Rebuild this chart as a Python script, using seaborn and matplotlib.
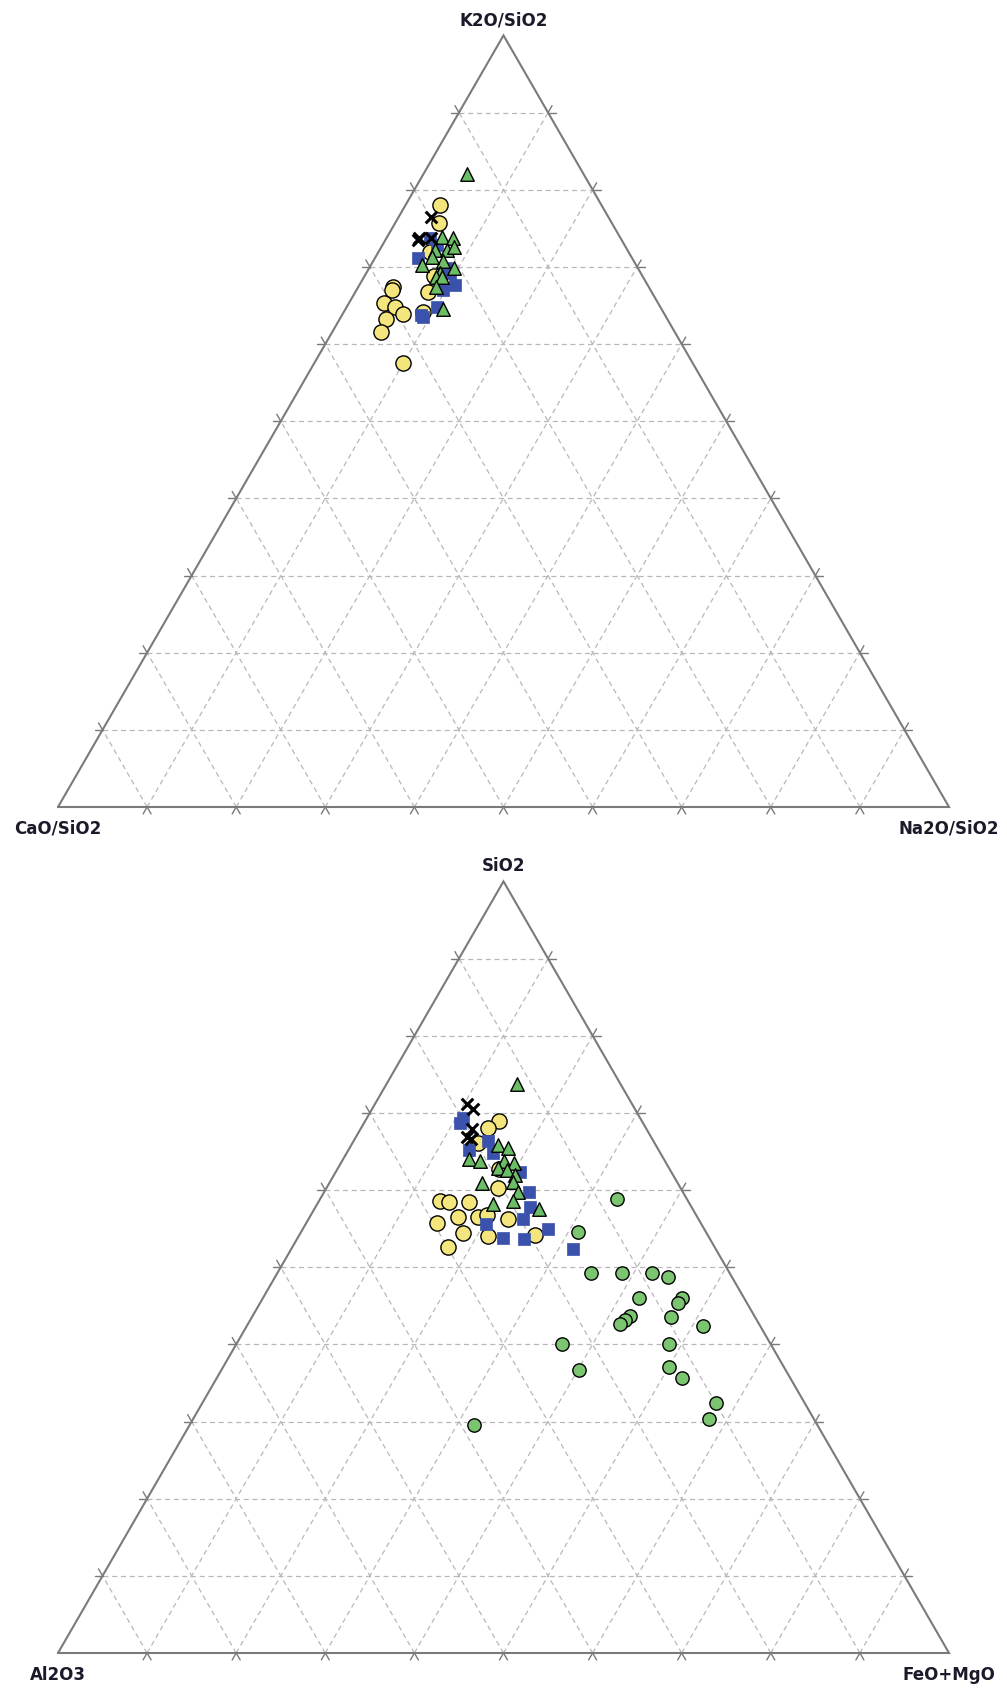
import numpy as np
import pandas as pd
import matplotlib
matplotlib.use("Agg")
import matplotlib.pyplot as plt
import seaborn as sns

# ---------------- data (ternary percentages: apex %, right-corner %) ----------------
top_labels = ["K2O/SiO2", "CaO/SiO2", "Na2O/SiO2"]       # apex, left, right
bottom_labels = ["SiO2", "Al2O3", "FeO+MgO"]              # apex, left, right

# Top diagram
top_yellow_apex = [78.0, 75.7, 71.9, 68.8, 66.7, 67.4, 67.0, 65.3, 64.8, 63.9, 63.3, 61.6, 64.2, 57.5]
top_yellow_right = [3.9, 4.9, 5.8, 7.8, 8.2, 3.9, 4.0, 3.9, 5.4, 6.8, 5.2, 5.5, 8.9, 10.0]

top_blue_apex = [73.7, 72.8, 71.1, 69.9, 67.7, 67.0, 69.2, 64.8, 63.8, 63.5]
top_blue_right = [4.9, 6.1, 4.9, 8.6, 10.7, 9.7, 9.4, 10.1, 8.8, 9.2]

top_tri_apex = [82.1, 73.9, 73.7, 72.2, 72.2, 72.6, 70.7, 71.3, 70.2, 69.8, 69.2, 68.7, 68.7, 67.4, 64.6]
top_tri_right = [4.9, 6.1, 7.5, 6.2, 7.6, 8.1, 7.9, 6.3, 5.7, 9.6, 8.3, 8.1, 8.7, 8.7, 10.9]

top_cross_apex = [76.5, 73.8, 73.5, 73.7]
top_cross_right = [3.6, 3.6, 3.6, 5.0]

# Bottom diagram
bot_yellow_apex = [68.9, 68.0, 66.1, 62.7, 60.2, 58.6, 58.4, 58.4, 56.5, 56.5, 56.8, 56.3,
                   55.7, 54.4, 54.0, 54.2, 52.6]
bot_yellow_right = [15.0, 14.3, 14.1, 18.2, 19.3, 13.6, 14.7, 16.9, 16.6, 18.9, 19.7, 22.3,
                    14.7, 18.2, 21.3, 26.4, 17.5]

bot_blue_apex = [68.7, 69.3, 66.3, 64.8, 65.2, 62.4, 59.7, 57.8, 56.2, 55.6, 55.0, 53.8, 53.6, 52.4]
bot_blue_right = [10.8, 10.8, 15.1, 16.4, 13.5, 20.6, 23.0, 24.1, 24.1, 20.2, 27.5, 23.0, 25.5, 31.6]

bot_tri_apex = [73.7, 65.8, 65.5, 64.0, 63.7, 63.8, 63.5, 62.8, 62.6, 61.9, 60.9, 61.0,
                59.8, 58.6, 58.2, 57.5]
bot_tri_right = [14.7, 16.5, 17.7, 14.1, 15.5, 18.1, 19.4, 18.0, 19.1, 20.3, 17.1, 20.6,
                 21.7, 21.8, 19.7, 25.2]

bot_cross_apex = [71.1, 70.5, 67.9, 66.9, 66.6]
bot_cross_right = [10.3, 11.3, 12.5, 12.4, 13.0]

bot_gcirc_apex = [58.8, 54.6, 49.3, 49.3, 49.3, 48.7, 46.0, 46.0, 45.4, 43.7, 43.2, 42.6,
                  43.6, 42.4, 40.0, 40.0, 36.7, 37.1, 35.7, 32.4, 30.3, 29.6]
bot_gcirc_right = [33.3, 31.1, 35.2, 38.6, 42.0, 44.1, 42.2, 47.0, 46.9, 42.4, 42.0, 41.8,
                   47.0, 51.2, 36.6, 48.6, 40.1, 50.0, 52.2, 57.6, 57.9, 31.9]

# ---------------- styling ----------------
YELLOW = "#F4E67C"
BLUE = "#3A52AC"
GREEN_TRI = "#6CBE66"
GREEN_CIRC = "#7BC470"
EDGE_GREY = "#7a7a7a"
GRID_GREY = "#b8b8b8"

S3 = np.sqrt(3) / 2
PX = 1.0 / 891.0   # one pixel in data units (triangle side = 891 px)


def to_df(apex, right):
    a = np.asarray(apex, float) / 100.0
    c = np.asarray(right, float) / 100.0
    return pd.DataFrame({"x": c + a / 2.0, "y": a * S3})


def draw_frame(ax, labels):
    ax.set_xlim(0, 1)
    ax.set_ylim(0, S3)
    ax.axis("off")
    d = 8 * PX
    for k in range(1, 10):
        f = k / 10.0
        p1 = np.array([f / 2, f * S3]); p2 = np.array([1 - f / 2, f * S3])
        q1 = np.array([f, 0.0]); q2 = np.array([f + (1 - f) / 2, (1 - f) * S3])
        r1 = np.array([1 - f, 0.0]); r2 = np.array([(1 - f) / 2, (1 - f) * S3])
        for (u, v) in [(p1, p2), (q1, q2), (r1, r2)]:
            ax.plot([u[0], v[0]], [u[1], v[1]], color=GRID_GREY, lw=0.9,
                    ls=(0, (4, 3)), zorder=1)
            dirv = (v - u) / np.linalg.norm(v - u)
            for (pt, sgn) in [(u, -1), (v, 1)]:
                e = pt + sgn * dirv * d
                ax.plot([pt[0], e[0]], [pt[1], e[1]], color=EDGE_GREY, lw=1.0,
                        zorder=2, clip_on=False)
    ax.plot([0, 1, 0.5, 0], [0, 0, S3, 0], color=EDGE_GREY, lw=1.5, zorder=2,
            clip_on=False, solid_joinstyle="miter")
    fs = 12
    ax.text(0.5, S3 + 15 * PX, labels[0], ha="center", va="center",
            fontsize=fs, fontweight="bold", color="#1a1a2a")
    ax.text(0.0, -22 * PX, labels[1], ha="center", va="center",
            fontsize=fs, fontweight="bold", color="#1a1a2a")
    ax.text(1.0, -22 * PX, labels[2], ha="center", va="center",
            fontsize=fs, fontweight="bold", color="#1a1a2a")


def scatter(ax, apex, right, **kw):
    df = to_df(apex, right)
    sns.scatterplot(data=df, x="x", y="y", ax=ax, legend=False, clip_on=False, **kw)


sns.set_style("white")
plt.rcParams["font.family"] = ["DejaVu Sans"]

fig = plt.figure(figsize=(10.07, 16.88), dpi=100)
W, H = 1007.0, 1688.0
ax_top = fig.add_axes([58 / W, (H - 807) / H, 891 / W, 771.6 / H])
ax_bot = fig.add_axes([58 / W, (H - 1653) / H, 891 / W, 771.6 / H])

for ax, labs in [(ax_top, top_labels), (ax_bot, bottom_labels)]:
    draw_frame(ax, labs)

# top
scatter(ax_top, top_yellow_apex, top_yellow_right, marker="o", s=120, color=YELLOW,
        edgecolor="black", linewidth=1.0, zorder=3)
scatter(ax_top, top_blue_apex, top_blue_right, marker="s", s=72, color=BLUE,
        edgecolor=BLUE, linewidth=0.5, zorder=4)
scatter(ax_top, top_tri_apex, top_tri_right, marker="^", s=95, color=GREEN_TRI,
        edgecolor="black", linewidth=1.0, zorder=5)
scatter(ax_top, top_cross_apex, top_cross_right, marker="x", s=70, color="black",
        linewidth=2.2, zorder=6)

# bottom
scatter(ax_bot, bot_yellow_apex, bot_yellow_right, marker="o", s=120, color=YELLOW,
        edgecolor="black", linewidth=1.0, zorder=3)
scatter(ax_bot, bot_blue_apex, bot_blue_right, marker="s", s=72, color=BLUE,
        edgecolor=BLUE, linewidth=0.5, zorder=4)
scatter(ax_bot, bot_tri_apex, bot_tri_right, marker="^", s=95, color=GREEN_TRI,
        edgecolor="black", linewidth=1.0, zorder=5)
scatter(ax_bot, bot_cross_apex, bot_cross_right, marker="x", s=70, color="black",
        linewidth=2.2, zorder=6)
scatter(ax_bot, bot_gcirc_apex, bot_gcirc_right, marker="o", s=92, color=GREEN_CIRC,
        edgecolor="black", linewidth=1.0, zorder=3)

fig.savefig("out.png", dpi=100)
